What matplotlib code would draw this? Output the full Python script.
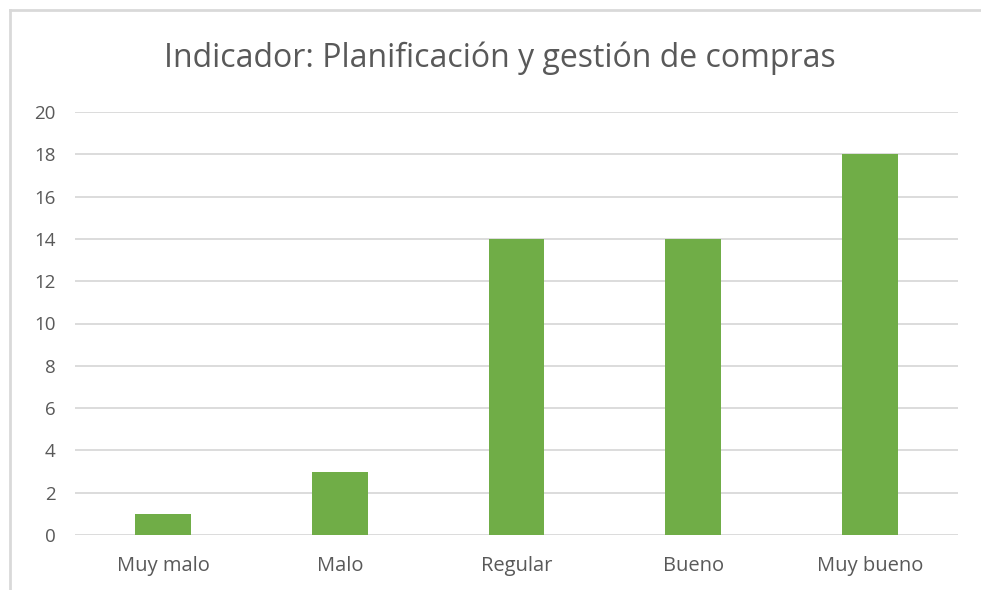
import matplotlib.pyplot as plt
from matplotlib.lines import Line2D
import numpy as np

categories = ["Muy malo", "Malo", "Regular", "Bueno", "Muy bueno"]
values = [1, 3, 14, 14, 18]
yticks = [0, 2, 4, 6, 8, 10, 12, 14, 16, 18, 20]

plt.rcParams['font.family'] = ['Open Sans', 'DejaVu Sans']

W, H = 981, 590
fig = plt.figure(figsize=(W / 100, H / 100), dpi=100)
fig.patch.set_facecolor('white')

# chart area border (only top and left edges visible in the crop)
fig.add_artist(Line2D([10 / W, 10 / W], [0, 1 - 10 / H], transform=fig.transFigure,
                      color='#d9d9d9', lw=2))
fig.add_artist(Line2D([10 / W, 1], [1 - 10 / H, 1 - 10 / H], transform=fig.transFigure,
                      color='#d9d9d9', lw=2))

ax = fig.add_axes([75 / W, (H - 535) / H, (958 - 75) / W, (535 - 112) / H])
x = np.arange(len(categories))
ax.bar(x, values, width=0.317, color='#70ad47', zorder=3)

ax.set_xlim(-0.5, len(categories) - 0.5)
ax.set_ylim(0, 20)
ax.set_yticks(yticks)
ax.set_xticks(x)
ax.set_xticklabels(categories)
ax.grid(axis='y', color='#d9d9d9', lw=1.3, zorder=0)
for s in ax.spines.values():
    s.set_visible(False)
ax.tick_params(length=0, colors='#595959')
ax.tick_params(axis='x', pad=15, labelsize=14.5)
ax.tick_params(axis='y', pad=14, labelsize=13.5)

fig.text(500 / W, 1 - 58 / H, "Indicador: Planificación y gestión de compras",
         ha='center', va='center', fontsize=23, color='#595959')

fig.savefig("out.png", dpi=100)
